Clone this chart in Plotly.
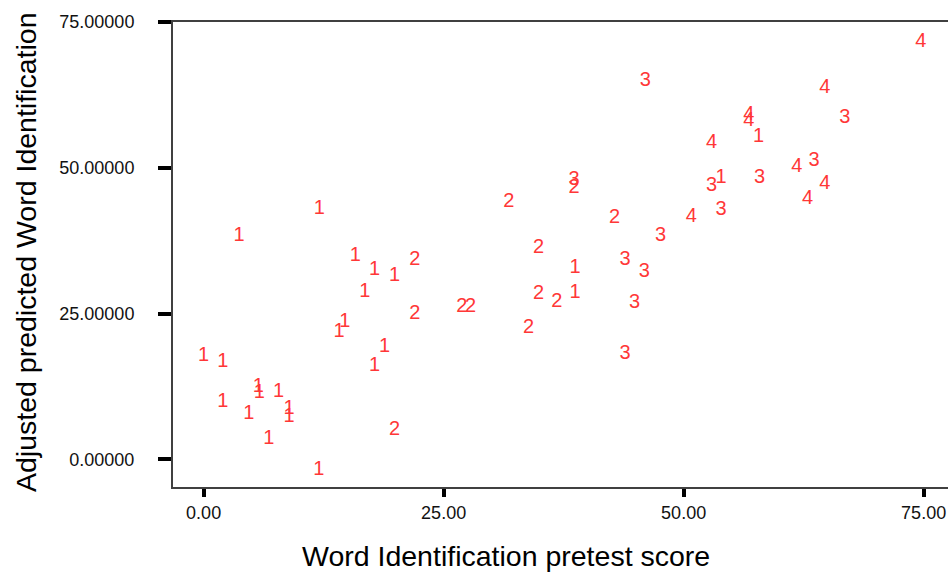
import plotly.graph_objects as go

# Group 1
x1 = [0.0, 2.0, 5.7, 5.8, 7.8, 2.0, 4.7, 8.9, 8.9, 6.8, 12.0, 17.8, 18.85, 15.8, 17.8, 19.9,
      16.8, 14.7, 14.1, 12.05, 3.7, 38.7, 38.7, 57.8, 53.9]
y1 = [17.7, 16.7, 12.4, 11.3, 11.6, 9.85, 7.7, 8.7, 7.2, 3.4, -1.8, 16.0, 19.2, 34.9, 32.5, 31.4,
      28.7, 23.6, 21.9, 43.0, 38.3, 32.8, 28.6, 55.2, 48.3]
# Group 2
x2 = [19.9, 22.0, 22.0, 26.9, 27.8, 31.8, 38.6, 42.8, 34.9, 34.9, 36.8, 33.85]
y2 = [5.0, 34.1, 24.9, 26.2, 26.2, 44.2, 46.6, 41.4, 36.2, 28.4, 26.9, 22.5]
# Group 3
x3 = [38.6, 47.6, 43.9, 45.9, 44.9, 43.9, 46.0, 66.8, 63.6, 52.9, 57.9, 53.9]
y3 = [47.9, 38.3, 34.2, 32.1, 26.8, 18.0, 64.9, 58.5, 51.1, 46.9, 48.3, 42.8]
# Group 4
x4 = [56.8, 56.8, 52.9, 61.8, 64.7, 62.9, 50.8, 74.7, 64.7]
y4 = [59.1, 58.1, 54.3, 50.1, 47.2, 44.6, 41.5, 71.5, 63.7]

groups = [("1", x1, y1), ("2", x2, y2), ("3", x3, y3), ("4", x4, y4)]

tickvals = [0, 25, 50, 75]
xticktext = ["0.00", "25.00", "50.00", "75.00"]
yticktext = ["0.00000", "25.00000", "50.00000", "75.00000"]

FONT = "Liberation Sans, Arial, sans-serif"
RED = "rgb(255,55,55)"

fig = go.Figure()
for lab, xs, ys in groups:
    fig.add_trace(go.Scatter(
        x=xs, y=ys, mode="text", text=[lab] * len(xs),
        textposition="middle center",
        textfont=dict(family=FONT, size=20, color=RED),
        showlegend=False, hoverinfo="x+y",
    ))

fig.update_layout(
    width=948, height=574,
    margin=dict(l=173, r=0, t=22, b=87),
    paper_bgcolor="white", plot_bgcolor="white",
    font=dict(family=FONT, color="black"),
    showlegend=False,
)
fig.update_xaxes(
    range=[-3.19, 77.54], tickvals=tickvals, ticktext=xticktext,
    showgrid=False, zeroline=False,
    showline=True, linecolor="#404040", linewidth=2, mirror=True,
    ticks="outside", ticklen=8, tickwidth=4, tickcolor="black",
    tickfont=dict(family=FONT, size=18, color="#111"),
)
fig.update_yaxes(
    range=[-4.75, 75], tickvals=tickvals, ticktext=yticktext,
    showgrid=False, zeroline=False,
    showline=True, linecolor="#404040", linewidth=2, mirror=False,
    ticks="outside", ticklen=13, tickwidth=4, tickcolor="black",
    ticklabelstandoff=20,
    tickfont=dict(family=FONT, size=18, color="#111"),
)
fig.add_annotation(
    text="Word Identification pretest score", xref="paper", yref="paper",
    x=(506 - 173) / 775, y=(487 - 556) / 465, xanchor="center", yanchor="middle",
    showarrow=False, font=dict(family=FONT, size=28.5, color="black"),
)
fig.add_annotation(
    text="Adjusted predicted Word Identification", xref="paper", yref="paper",
    x=(26 - 173) / 775, y=(487 - 252) / 465, xanchor="center", yanchor="middle",
    textangle=-90, showarrow=False, font=dict(family=FONT, size=28.5, color="black"),
)

fig.write_html("out.html")
